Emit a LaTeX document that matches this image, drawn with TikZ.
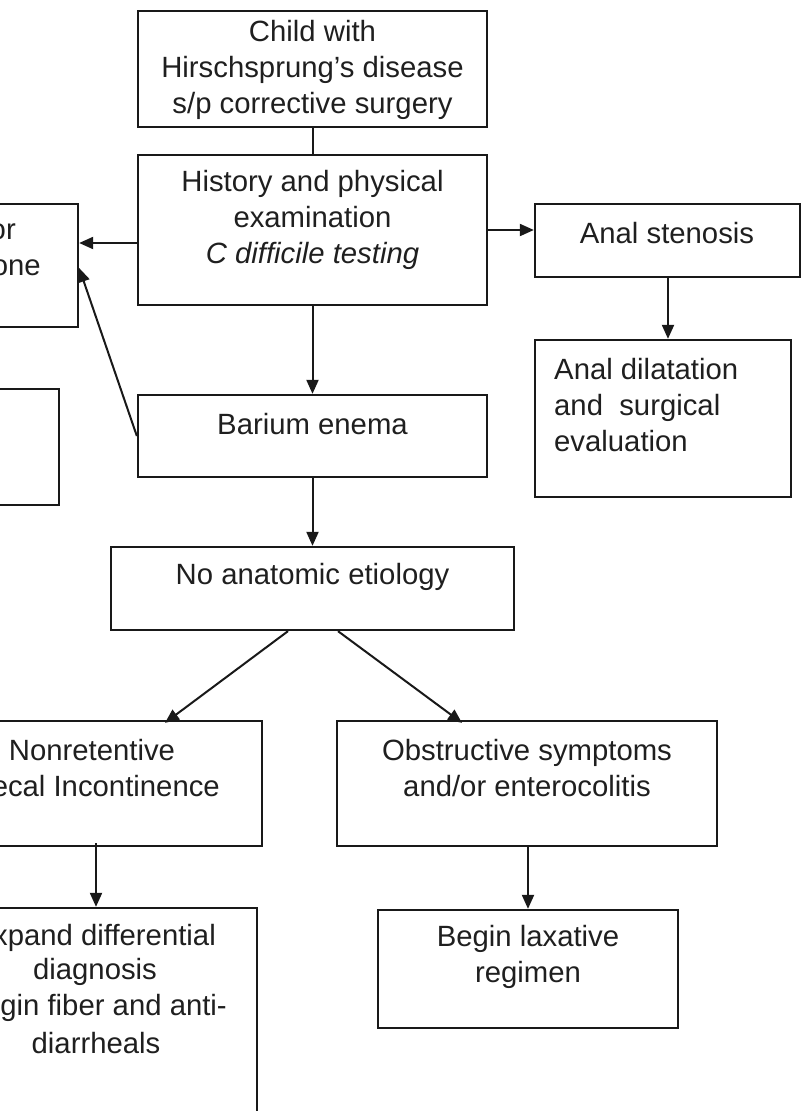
\documentclass[tikz,border=0pt]{standalone}
\usepackage{fontspec}
\setmainfont{Liberation Sans}
\usetikzlibrary{arrows.meta}
\begin{document}
\begin{tikzpicture}[x=1pt,y=-1pt,
  box/.style={draw=black!90, line width=2.3pt, inner sep=0pt},
  txt/.style={font=\fontsize{29.3}{36}\selectfont, inner sep=0pt, align=center, text=black!88},
  conn/.style={line width=2pt, draw=black!90},
  arr/.style={conn, -{Triangle[length=14pt,width=12pt]}}]
\useasboundingbox (0,0) rectangle (803,1111);
\clip (0,0) rectangle (803,1111);
% boxes
\node[box, minimum width=349pt, minimum height=116pt] (child) at (312.5,69) {};
\node[box, minimum width=349pt, minimum height=150pt] (hp) at (312.5,230) {};
\node[box, minimum width=278pt, minimum height=123pt] (lt) at (-61,265.5) {};
\node[box, minimum width=259pt, minimum height=116pt] (lm) at (-70.5,447) {};
\node[box, minimum width=349pt, minimum height=82pt] (ba) at (312.5,436) {};
\node[box, minimum width=265pt, minimum height=73pt] (as) at (667.5,240.5) {};
\node[box, minimum width=256pt, minimum height=157pt] (ad) at (663,418.5) {};
\node[box, minimum width=403pt, minimum height=83pt] (na) at (312.5,588.5) {};
\node[box, minimum width=462pt, minimum height=125pt] (nr) at (31,783.5) {};
\node[box, minimum width=380pt, minimum height=125pt] (ob) at (527,783.5) {};
\node[box, minimum width=457pt, minimum height=292pt] (ex) at (28.5,1054) {};
\node[box, minimum width=300pt, minimum height=118pt] (bl) at (528,969) {};
% texts
\node[txt] (tchild) at (312.5,70) {Child with\\Hirschsprung’s disease\\s/p corrective surgery};
\node[txt] (thp) at (312.5,220) {History and physical\\examination\\\itshape C difficile testing};
\node[txt, anchor=east] (tlt1) at (16,232) {or};
\node[txt, anchor=east] (tlt2) at (41,268) {one};
\node[txt] (tba) at (312.5,424) {Barium enema};
\node[txt] (tas) at (667,233) {Anal stenosis};
\node[txt, align=left, anchor=west] (tad) at (554,405) {Anal dilatation\\and\ \ surgical\\evaluation};
\node[txt] (tna) at (312.5,577) {No anatomic etiology};
\node[txt] (tnr1) at (92,750) {Nonretentive};
\node[txt, anchor=east] (tnr2) at (220,786) {ecal Incontinence};
\node[txt] (tob) at (527,768) {Obstructive symptoms\\and/or enterocolitis};
\node[txt, anchor=east] (tex1) at (216,938) {xpand differential};
\node[txt] (tex2) at (95,972) {diagnosis};
\node[txt, anchor=east] (tex3) at (227,1008) {gin fiber and anti-};
\node[txt] (tex4) at (96,1043) {diarrheals};
\node[txt] (tbl) at (528,957) {Begin laxative\\regimen};
% helper coordinates
\coordinate (y243) at (0,243);
\coordinate (y268) at (0,268);
\coordinate (xa) at (288,0);
\coordinate (xb) at (338,0);
\coordinate (xc) at (165,0);
\coordinate (xd) at (462,0);
\coordinate (x96) at (96,0);
\coordinate (x668) at (668,0);
\coordinate (x528) at (528,0);
% connectors
\draw[conn] (child.south) -- (hp.north);
\draw[arr] (hp.west |- y243) -- (lt.east |- y243);
\draw[arr] (hp.east) -- (as.west |- hp.east);
\draw[arr] (ba.west) -- (lt.east |- y268);
\draw[arr] (hp.south) -- (ba.north);
\draw[arr] (as.south -| x668) -- (ad.north -| x668);
\draw[arr] (ba.south) -- (na.north);
\draw[arr] (na.south -| xa) -- ([yshift=-3pt]nr.north -| xc);
\draw[arr] (na.south -| xb) -- ([yshift=-3pt]ob.north -| xd);
\draw[arr] ([yshift=4pt]nr.south -| x96) -- (ex.north -| x96);
\draw[arr] ([yshift=2pt]ob.south -| x528) -- (bl.north -| x528);
\end{tikzpicture}
\end{document}
